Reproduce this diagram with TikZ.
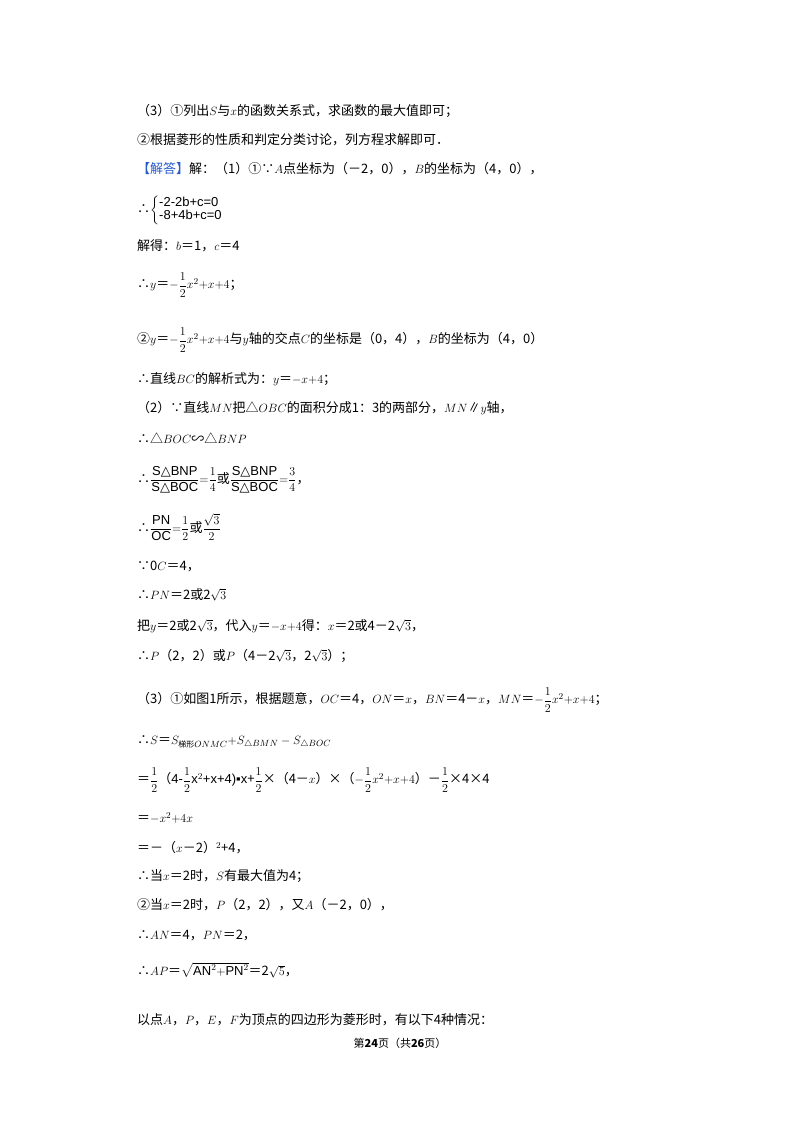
\documentclass[tikz,border=0pt]{standalone}
\usepackage{amsmath}
\usepackage{fontspec}
\setmainfont{Noto Sans CJK SC}
\newfontfamily\ar{Liberation Sans}
\newfontfamily\djvfont{DejaVu Sans}
\newcommand{\trg}{{\djvfont △}}
\begin{document}
\begin{tikzpicture}[x=1pt,y=-1pt,t/.style={anchor=west,inner sep=0pt,font=\fontsize{13}{15}\selectfont}]
\useasboundingbox[fill=white] (0,0) rectangle (800,1132);
\node[t] (l1) at (137,111) {（3）①列出$S$与$x$的函数关系式，求函数的最大值即可；};
\node[t] (l2) at (137,140) {②根据菱形的性质和判定分类讨论，列方程求解即可．};
\node[t] (l3) at (137,169) {{\color[RGB]{40,90,200}【解答】}解：（1）①∵$A$点坐标为（－2，0），$B$的坐标为（4，0），};
\node[t] (l4) at (137,210) {∴$\left\{\begin{array}{@{}l@{}}\text{\ar -2-2b+c=0}\\[-2pt] \text{\ar -8+4b+c=0}\end{array}\right.$};
\node[t] (l5) at (137,246) {解得：$b$＝1，$c$＝4};
\node[t] (l6) at (137,285) {∴$y$＝$-\dfrac{1}{2}x^2{+}x{+}4$；};
\node[t] (l7) at (137,340) {②$y$＝$-\dfrac{1}{2}x^2{+}x{+}4$与$y$轴的交点$C$的坐标是（0，4），$B$的坐标为（4，0）};
\node[t] (l8) at (137,379) {∴直线$BC$的解析式为：$y$＝$-x{+}4$；};
\node[t] (l9) at (137,408) {（2）∵直线$MN$把△$OBC$的面积分成1：3的两部分，$MN$∥$y$轴，};
\node[t] (l10) at (137,438) {∴△$BOC$∽△$BNP$};
\node[t] (l11) at (137,480) {∴$\dfrac{\text{\ar S\trg BNP}}{\text{\ar S\trg BOC}}{=}\dfrac{1}{4}$或$\dfrac{\text{\ar S\trg BNP}}{\text{\ar S\trg BOC}}{=}\dfrac{3}{4}$，};
\node[t] (l12) at (137,527) {∴$\dfrac{\text{\ar PN}}{\text{\ar OC}}{=}\dfrac{1}{2}$或$\dfrac{\sqrt{3}}{2}$};
\node[t] (l13) at (137,566) {∵0$C$＝4，};
\node[t] (l14) at (137,595) {∴$PN$＝2或2$\sqrt{3}$};
\node[t] (l15) at (137,626) {把$y$＝2或2$\sqrt{3}$，代入$y$＝$-x{+}4$得：$x$＝2或4－2$\sqrt{3}$，};
\node[t] (l16) at (137,656) {∴$P$（2，2）或$P$（4－2$\sqrt{3}$，2$\sqrt{3}$）；};
\node[t] (l17) at (137,700) {（3）①如图1所示，根据题意，$OC$＝4，$ON$＝$x$，$BN$＝4－$x$，$MN$＝$-\dfrac{1}{2}x^2{+}x{+}4$；};
\node[t] (l18) at (137,742) {∴$S$＝$S_{\text{\fontsize{8}{9}\selectfont 梯形}ONMC}{+}S_{\triangle BMN}-S_{\triangle BOC}$};
\node[t] (l19) at (137,780) {＝$\dfrac{1}{2}$（{\ar 4-$\dfrac{1}{2}$x$^2$+x+4)▪x}+$\dfrac{1}{2}$×（4－$x$）×（$-\dfrac{1}{2}x^2{+}x{+}4$）－$\dfrac{1}{2}$×4×4};
\node[t] (l20) at (137,818) {＝$-x^2{+}4x$};
\node[t] (l21) at (137,848) {＝－（$x$－2）$^2$+4，};
\node[t] (l22) at (137,876) {∴当$x$＝2时，$S$有最大值为4；};
\node[t] (l23) at (137,905) {②当$x$＝2时，$P$（2，2），又$A$（－2，0），};
\node[t] (l24) at (137,935) {∴$AN$＝4，$PN$＝2，};
\node[t] (l25) at (137,970) {∴$AP$＝$\sqrt{\text{\ar AN}^2{+}\text{\ar PN}^2}$＝2$\sqrt{5}$，};
\node[t] (l26) at (137,1020) {以点$A$，$P$，$E$，$F$为顶点的四边形为菱形时，有以下4种情况：};
\node[inner sep=0pt,font=\fontsize{11}{13}\selectfont] (ft) at (400,1043) {第\textbf{24}页（共\textbf{26}页）};
\end{tikzpicture}
\end{document}
